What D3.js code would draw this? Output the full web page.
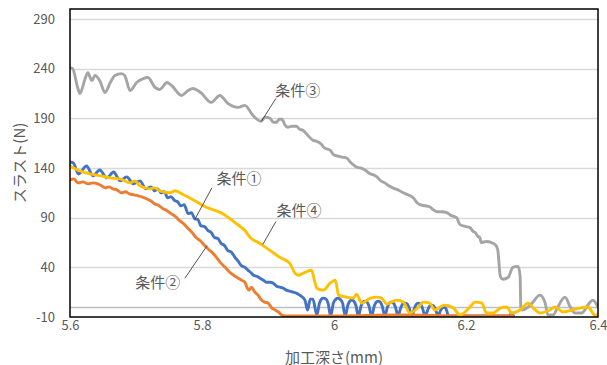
<!DOCTYPE html>
<html><head><meta charset="utf-8">
<script src="https://cdn.jsdelivr.net/npm/d3@7"></script>
<style>
body{margin:0;background:#fff}
svg{display:block}
text{font-family:"Noto Sans CJK JP","Noto Sans",sans-serif;fill:#595959}
</style>
</head><body>
<svg id="c" width="607" height="365"></svg>
<script>
const seriesNames = ["条件①", "条件②", "条件③", "条件④"];
const seriesColors = ["#4472C4", "#ED7D31", "#A5A5A5", "#FFC000"];

const depth1 = [5.600,5.605,5.613,5.625,5.635,5.645,5.656,5.666,5.676,5.686,5.696,5.706,5.715,5.723,5.728,5.733,5.738,5.743,5.748,5.753,5.759,5.763,5.768,5.773,5.779,5.784,5.789,5.794,5.798,5.804,5.809,5.814,5.819,5.824,5.829,5.834,5.839,5.845,5.850,5.855,5.859,5.865,5.870,5.875,5.878,5.883,5.888,5.893,5.898,5.903,5.908,5.913,5.918,5.923,5.928,5.933,5.938,5.943,5.948,5.956,5.960,5.964,5.968,5.974,
  5.978,5.981,5.984,5.988,5.991,5.995,
  5.999,6.003,6.006,6.009,6.013,6.017,
  6.021,6.024,6.027,6.030,6.033,6.037,
  6.041,6.044,6.047,6.050,6.053,6.057,
  6.061,6.064,6.067,6.070,6.073,6.077,
  6.081,6.084,6.087,6.090,6.093,6.097,
  6.101,6.104,6.108,6.111,6.114,6.118,
  6.122,6.125,6.128,6.131,6.134,6.138,
  6.142,6.145,6.148,6.151,6.154,6.158,
  6.161,6.164,6.167,6.169,6.171,6.173,
  6.220,6.266,6.269,6.272];
const thrust1 = [146,145,134,142,132,138,130,136,127,131,124,127,119,121,117,119,115,116,110,111,107,106,102,103,94,95,89,88,82,81,77,75,70,69,64,62,57,55,50,46,42,40,37,34,32,31,29,27,25,25,24,21,20,19,17,16,15,14,12,7,-3,8,8,-8,
  4,8,9,8,4,-9,
  4,8,9,8,4,-9,
  2,6,7,6,2,-9,
  1,5,6,5,1,-9,
  1,5,6,5,1,-9,
  0,4,5,4,0,-9,
  -1,3,4,3,-1,-9,
  -1,3,4,3,-1,-9,
  -3,1,2,1,-3,-9,
  -4,-1,0,-1,-4,-9,
  -9,-9,-6,-9];

const depth2 = [5.600,5.606,5.612,5.620,5.627,5.635,5.642,5.648,5.653,5.659,5.665,5.671,5.678,5.684,5.690,5.697,5.703,5.709,5.716,5.722,5.728,5.735,5.741,5.747,5.753,5.760,5.766,5.772,5.779,5.785,5.791,5.797,5.804,5.810,5.817,5.823,5.829,5.835,5.842,5.848,5.855,5.860,5.865,5.868,5.871,5.875,5.880,5.885,5.890,5.895,5.900,5.906,5.911,5.916,5.921,5.926,6.000,6.100,6.200,6.271];
const thrust2 = [128,129,125,126,124,125,124,122,120,121,119,118,115,116,114,113,112,111,109,107,104,102,99,97,94,91,87,84,79,75,70,67,62,58,54,49,44,40,35,32,29,27,25,20,17,20,15,12,7,5,4,-1,-3,-5,-8,-9,-9,-8,-9,-9];

const depth3 = [5.600,5.604,5.612,5.615,5.623,5.627,5.633,5.638,5.645,5.653,5.661,5.668,5.678,5.683,5.691,5.701,5.711,5.718,5.729,5.736,5.747,5.754,5.769,5.779,5.786,5.798,5.814,5.827,5.839,5.855,5.865,5.877,5.889,5.896,5.903,5.908,5.913,5.917,5.921,5.926,5.930,5.936,5.943,5.948,5.953,5.960,5.968,5.973,5.979,5.986,5.994,6.000,6.006,6.012,6.019,6.026,6.034,6.040,6.047,6.055,6.060,6.065,6.071,6.077,6.083,6.089,6.097,6.105,6.112,6.120,6.126,6.130,6.138,6.145,6.150,6.156,6.163,6.171,6.178,6.186,6.189,6.191,6.200,6.206,6.211,6.214,6.218,6.221,6.223,6.231,6.238,6.244,6.248,6.252,6.256,6.264,6.271,6.279,6.282,6.283,6.285,6.292,6.300,6.312,6.320,6.324,6.332,6.339,6.350,6.358,6.365,6.375,6.388,6.392,6.400];
const thrust3 = [241,240,220,215,230,236,228,233,228,216,226,233,235,233,218,226,230,231,221,219,226,223,213,218,220,216,206,213,205,201,203,193,187,191,190,186,186,189,189,183,181,182,182,179,178,173,168,167,165,160,158,153,152,151,150,145,141,140,138,134,133,131,127,125,122,120,118,115,113,110,105,103,102,101,98,96,96,95,92,90,85,83,81,80,76,75,71,70,65,66,65,63,58,31,28,30,40,41,31,0,-3,-1,4,12,4,-8,-8,0,10,0,-6,-6,5,7,0];

const depth4 = [5.600,5.615,5.630,5.647,5.661,5.676,5.691,5.698,5.706,5.721,5.728,5.736,5.752,5.759,5.772,5.789,5.802,5.812,5.829,5.850,5.865,5.873,5.888,5.903,5.918,5.933,5.941,5.946,5.953,5.966,5.971,5.974,5.984,5.994,6.002,6.007,6.019,6.029,6.034,6.042,6.055,6.065,6.072,6.080,6.095,6.105,6.115,6.128,6.135,6.145,6.153,6.161,6.168,6.181,6.191,6.206,6.214,6.224,6.231,6.241,6.252,6.262,6.269,6.282,6.294,6.302,6.312,6.327,6.335,6.347,6.360,6.373,6.385,6.395,6.400];
const thrust4 = [142,137,134,132,130,129,125,127,122,119,120,117,115,117,113,107,102,99,95,85,77,70,64,57,50,44,34,32,34,37,25,19,17,24,27,12,10,9,13,4,9,10,9,3,7,5,-6,0,5,4,-3,0,2,-1,-8,0,5,4,-6,-6,-1,0,-6,-3,4,-1,-6,-3,0,-5,-3,-1,0,-8,-8];

const xTicks = [5.6, 5.8, 6.0, 6.2, 6.4];
const xTickLabels = ["5.6", "5.8", "6", "6.2", "6.4"];
const yTicks = [-10, 40, 90, 140, 190, 240, 290];
const yTickLabels = ["-10", "40", "90", "140", "190", "240", "290"];
const xTitle = "加工深さ(mm)";
const yTitle = "スラスト(N)";

// annotation anchors in data units
const annotations = [
  {label: "条件③", t: [5.945, 219], a: [5.912, 210], b: [5.890, 187]},
  {label: "条件①", t: [5.856, 130], a: [5.815, 120], b: [5.789, 88]},
  {label: "条件④", t: [5.947, 98], a: [5.912, 86], b: [5.892, 63]},
  {label: "条件②", t: [5.733, 26], a: [5.774, 29], b: [5.808, 62]}
];

const W = 607, H = 365;
const m = {l: 70, r: 9, t: 9, b: 48};
const svg = d3.select("#c");
const x = d3.scaleLinear().domain([5.6, 6.4]).range([m.l, W - m.r]);
const y = d3.scaleLinear().domain([-10, 300]).range([H - m.b, m.t]);

svg.append("g").selectAll("line").data(yTicks.filter(v => v > -10)).join("line")
  .attr("x1", x(5.6)).attr("x2", x(6.4))
  .attr("y1", d => Math.round(y(d)) + 0.5).attr("y2", d => Math.round(y(d)) + 0.5)
  .attr("stroke", "#D9D9D9").attr("stroke-width", 1.3);
svg.append("line").attr("x1", x(5.6)).attr("x2", x(6.4))
  .attr("y1", Math.round(y(0)) + 0.5).attr("y2", Math.round(y(0)) + 0.5)
  .attr("stroke", "#BFBFBF").attr("stroke-width", 1.3);

svg.append("clipPath").attr("id", "clip").append("rect")
  .attr("x", x(5.6)).attr("y", y(300)).attr("width", x(6.4) - x(5.6)).attr("height", y(-10) - y(300));
const series = [
  [depth1, thrust1], [depth2, thrust2], [depth3, thrust3], [depth4, thrust4]
];
const line = d3.line().x(d => x(d[0])).y(d => y(d[1])).curve(d3.curveMonotoneX);
const gLines = svg.append("g").attr("clip-path", "url(#clip)");
series.forEach((s, i) => {
  const pts = s[0].map((dd, k) => [dd, s[1][k]]);
  gLines.append("path").datum(pts).attr("d", line)
    .attr("fill", "none").attr("stroke", seriesColors[i])
    .attr("stroke-width", 2.9).attr("stroke-linejoin", "round").attr("stroke-linecap", "round");
});

svg.append("rect").attr("x", x(5.6)).attr("y", y(300))
  .attr("width", x(6.4) - x(5.6)).attr("height", y(-10) - y(300))
  .attr("fill", "none").attr("stroke", "#000").attr("stroke-width", 1.5);

const yAxis = svg.append("g").attr("transform", `translate(${x(5.6)},0)`)
  .call(d3.axisLeft(y).tickValues(yTicks).tickSize(0).tickPadding(15).tickFormat((d, i) => yTickLabels[i]));
yAxis.select(".domain").remove();
yAxis.selectAll("text").attr("font-size", 13).attr("fill", "#595959")
  .style("font-family", '"Noto Sans CJK JP","Noto Sans",sans-serif');
const xAxis = svg.append("g").attr("transform", `translate(0,${y(-10)})`)
  .call(d3.axisBottom(x).tickValues(xTicks).tickSize(0).tickPadding(4).tickFormat((d, i) => xTickLabels[i]));
xAxis.select(".domain").remove();
xAxis.selectAll("text").attr("font-size", 13).attr("fill", "#595959")
  .style("font-family", '"Noto Sans CJK JP","Noto Sans",sans-serif');

svg.append("text").attr("x", (x(5.6) + x(6.4)) / 2).attr("y", 356)
  .attr("text-anchor", "middle").attr("dominant-baseline", "central")
  .attr("font-size", 15).text(xTitle);
svg.append("text").attr("transform", `translate(18,${(y(-10) + y(300)) / 2}) rotate(-90)`)
  .attr("text-anchor", "middle").attr("dominant-baseline", "central")
  .attr("font-size", 15).text(yTitle);

annotations.forEach(a => {
  svg.append("line").attr("x1", x(a.a[0])).attr("y1", y(a.a[1]))
    .attr("x2", x(a.b[0])).attr("y2", y(a.b[1]))
    .attr("stroke", "#404040").attr("stroke-width", 0.9);
  svg.append("text").attr("x", x(a.t[0])).attr("y", y(a.t[1]))
    .attr("text-anchor", "middle").attr("dominant-baseline", "central")
    .attr("font-size", 15).text(a.label);
});
</script>
</body></html>
